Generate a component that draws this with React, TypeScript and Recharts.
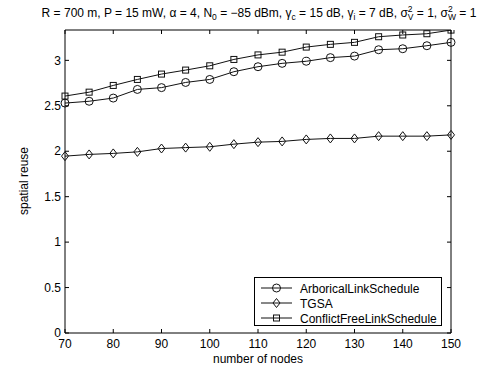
import React from 'react';
import { LineChart, Line, XAxis, YAxis, Legend } from 'recharts';

const nodes = [70, 75, 80, 85, 90, 95, 100, 105, 110, 115, 120, 125, 130, 135, 140, 145, 150];
const arborical = [2.53, 2.55, 2.585, 2.68, 2.7, 2.757, 2.79, 2.875, 2.93, 2.967, 2.99, 3.03, 3.047, 3.117, 3.128, 3.161, 3.198];
const tgsa = [1.946, 1.965, 1.976, 1.993, 2.03, 2.04, 2.049, 2.078, 2.1, 2.108, 2.13, 2.141, 2.141, 2.166, 2.166, 2.166, 2.18];
const conflictFree = [2.607, 2.65, 2.724, 2.79, 2.849, 2.893, 2.94, 3.01, 3.06, 3.09, 3.146, 3.176, 3.198, 3.26, 3.279, 3.293, 3.333];

const xTicks = [70, 80, 90, 100, 110, 120, 130, 140, 150];
const yTicks = [0, 0.5, 1, 1.5, 2, 2.5, 3];

const seriesNames = ['ArboricalLinkSchedule', 'TGSA', 'ConflictFreeLinkSchedule'];
const seriesKeys = ['arborical', 'tgsa', 'conflictFree'];
const seriesMarkers = ['circle', 'diamond', 'square'];

const data = nodes.map((n, i) => ({
  n,
  arborical: arborical[i],
  tgsa: tgsa[i],
  conflictFree: conflictFree[i],
}));

const FONT = '"Liberation Sans", Arial, Helvetica, sans-serif';
const LINE = '#111';

function Marker({ cx, cy, kind }: { cx: number; cy: number; kind: string }) {
  if (kind === 'circle') {
    return <circle cx={cx} cy={cy} r={4} fill="none" stroke={LINE} strokeWidth={1} />;
  }
  if (kind === 'square') {
    return <rect x={cx - 3} y={cy - 3} width={6} height={6} fill="none" stroke={LINE} strokeWidth={1} />;
  }
  return (
    <polygon
      points={`${cx},${cy - 4.5} ${cx + 3.5},${cy} ${cx},${cy + 4.5} ${cx - 3.5},${cy}`}
      fill="none"
      stroke={LINE}
      strokeWidth={1}
    />
  );
}

function LegendBox() {
  const rowsY = [11, 26, 41];
  return (
    <div
      style={{
        width: 188,
        height: 49,
        border: '1px solid #000',
        boxSizing: 'border-box',
        background: '#fff',
      }}
    >
      <svg width={186} height={47} style={{ display: 'block' }}>
        {seriesNames.map((name, i) => (
          <g key={name}>
            <line x1={6} x2={37} y1={rowsY[i] - 1} y2={rowsY[i] - 1} stroke={LINE} strokeWidth={1} />
            <Marker cx={21.5} cy={rowsY[i] - 1} kind={seriesMarkers[i]} />
            <text x={45} y={rowsY[i] + 3.5} fontSize={12} fontFamily={FONT} fill="#000">
              {name}
            </text>
          </g>
        ))}
      </svg>
    </div>
  );
}

const tickStyle = { fontSize: 12, fontFamily: FONT, fill: '#000' };
const sub = 8.5;

export default function App() {
  return (
    <div style={{ position: 'absolute', left: 0, top: 0, width: 498, height: 375, background: '#fff' }}>
      <LineChart width={498} height={375} data={data} margin={{ top: 29, right: 46, left: 64, bottom: 41 }}>
        <XAxis
          xAxisId="b"
          dataKey="n"
          type="number"
          domain={[70, 150]}
          ticks={xTicks}
          height={1}
          tickSize={-4}
          tickMargin={10}
          tick={tickStyle}
          stroke="#000"
          tickLine={{ stroke: '#000' }}
          axisLine={{ stroke: '#000' }}
        />
        <XAxis
          xAxisId="t"
          orientation="top"
          dataKey="n"
          type="number"
          domain={[70, 150]}
          ticks={xTicks}
          height={1}
          tickSize={-4}
          tickFormatter={() => ''}
          stroke="#000"
          axisLine={{ stroke: '#000' }}
        />
        <YAxis
          yAxisId="l"
          type="number"
          domain={[0, 3.334]}
          ticks={yTicks}
          width={1}
          tickSize={-4}
          tickMargin={8}
          tick={tickStyle}
          stroke="#000"
          axisLine={{ stroke: '#000' }}
          allowDataOverflow
        />
        <YAxis
          yAxisId="r"
          orientation="right"
          type="number"
          domain={[0, 3.334]}
          ticks={yTicks}
          width={1}
          tickSize={-4}
          tickFormatter={() => ''}
          stroke="#000"
          axisLine={{ stroke: '#000' }}
          allowDataOverflow
        />
        {seriesKeys.map((k, i) => (
          <Line
            key={k}
            xAxisId="b"
            yAxisId="l"
            dataKey={k}
            name={seriesNames[i]}
            stroke={LINE}
            strokeWidth={1}
            isAnimationActive={false}
            dot={(p: any) => <Marker key={`${k}-${p.index}`} cx={p.cx} cy={p.cy} kind={seriesMarkers[i]} />}
            activeDot={false}
          />
        ))}
        <Legend
          layout="vertical"
          align="center"
          verticalAlign="middle"
          content={() => <LegendBox />}
          wrapperStyle={{ left: 254, top: 277, width: 188, height: 49 }}
        />
      </LineChart>
      <svg
        width={498}
        height={375}
        style={{ position: 'absolute', left: 0, top: 0, pointerEvents: 'none' }}
        fontFamily={FONT}
      >
        <text x={259} y={17} textAnchor="middle" fontSize={12} fill="#000" xmlSpace="preserve">
          {'R = 700 m, P = 15 mW, \u03B1 = 4, N'}
          <tspan dy={3} fontSize={sub}>0</tspan>
          <tspan dy={-3}>{' = \u221285 dBm, \u03B3'}</tspan>
          <tspan dy={3} fontSize={sub}>c</tspan>
          <tspan dy={-3}>{' = 15 dB, \u03B3'}</tspan>
          <tspan dy={3} fontSize={sub}>i</tspan>
          <tspan dy={-3}>{' = 7 dB, \u03C3'}</tspan>
          <tspan dy={-5} fontSize={sub}>2</tspan>
          <tspan dx={-4.7} dy={8} fontSize={sub}>V</tspan>
          <tspan dy={-3}>{' = 1, \u03C3'}</tspan>
          <tspan dy={-5} fontSize={sub}>2</tspan>
          <tspan dx={-4.7} dy={8} fontSize={sub}>W</tspan>
          <tspan dy={-3}>{' = 1'}</tspan>
        </text>
        <text x={258} y={363} textAnchor="middle" fontSize={12} fill="#000">
          number of nodes
        </text>
        <text x={28} y={181} textAnchor="middle" fontSize={12} fill="#000" transform="rotate(-90 28 181)">
          spatial reuse
        </text>
      </svg>
    </div>
  );
}
